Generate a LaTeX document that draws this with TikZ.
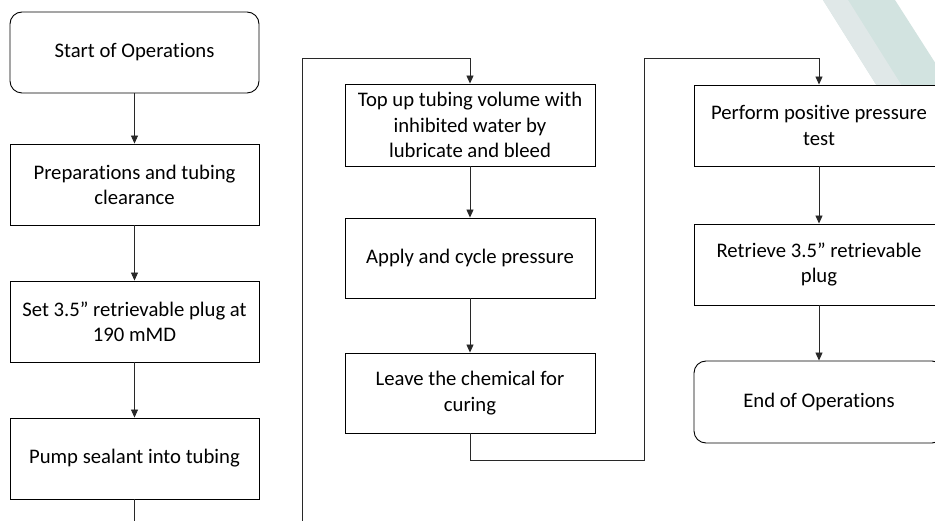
\documentclass[tikz,border=0pt]{standalone}
\usepackage{fontspec}
\setmainfont{Carlito}[Ligatures=NoCommon]
\usetikzlibrary{arrows.meta}
\definecolor{wmA}{RGB}{210,227,224}
\definecolor{wmB}{RGB}{224,232,232}
\definecolor{linec}{RGB}{40,40,40}
\tikzset{
  stepbox/.style={draw=black, line width=0.9pt, fill=white, minimum width=249pt, minimum height=81pt,
    align=center, inner sep=2pt, font=\fontsize{20.7}{25.2}\selectfont},
  termbox/.style={stepbox, rounded corners=12pt},
  conn/.style={draw=linec, line width=0.9pt},
  arr/.style={conn, -{Triangle[width=7pt,length=8pt]}}
}
\begin{document}
\begin{tikzpicture}[x=1pt,y=-1pt]
\useasboundingbox (0,0) rectangle (935,521);
\clip (0,0) rectangle (935,521);
\fill[white] (0,0) rectangle (935,521);
% faint watermark band
\fill[wmA] (823,0) -- (895,0) -- (950,86) -- (877,86) -- cycle;
\fill[wmB] (823,0) -- (848,0) -- (902,86) -- (877,86) -- cycle;
% nodes
\node[termbox] (start) at (134.5,52.5) {Start of Operations};
\node[stepbox] (prep) at (134.5,184.5) {Preparations and tubing\\clearance};
\node[stepbox] (setplug) at (134.5,321.5) {Set 3.5” retrievable plug at\\190 mMD};
\node[stepbox] (pump) at (134.5,458.5) {Pump sealant into tubing};
\node[stepbox, minimum width=250pt, minimum height=82pt] (topup) at (470,125) {Top up tubing volume with\\inhibited water by\\lubricate and bleed};
\node[stepbox, minimum width=250pt, minimum height=80pt] (apply) at (470,258) {Apply and cycle pressure};
\node[stepbox, minimum width=250pt, minimum height=80pt] (leave) at (470,393) {Leave the chemical for\\curing};
\node[stepbox, minimum width=250pt] (perform) at (819,125.5) {Perform positive pressure\\test};
\node[stepbox, minimum width=250pt] (retrieve) at (819,264.5) {Retrieve 3.5” retrievable\\plug};
\node[termbox, minimum width=250pt, minimum height=82pt] (end) at (819,402) {End of Operations};
% junction coordinates
\coordinate (b1) at (134.5,521);
\coordinate (b2) at (302,521);
\coordinate (t2) at (302,58);
\coordinate (d3) at (644,460);
\coordinate (t3) at (644,58);
% connectors
\draw[arr] (start) -- (prep);
\draw[arr] (prep) -- (setplug);
\draw[arr] (setplug) -- (pump);
\draw[conn] (pump) -- (b1);
\draw[arr] (b2) -- (t2) -| (topup.north);
\draw[arr] (topup) -- (apply);
\draw[arr] (apply) -- (leave);
\draw[arr] (leave.south) |- (d3) -- (t3) -| (perform.north);
\draw[arr] (perform) -- (retrieve);
\draw[arr] (retrieve) -- (end);
\end{tikzpicture}
\end{document}
